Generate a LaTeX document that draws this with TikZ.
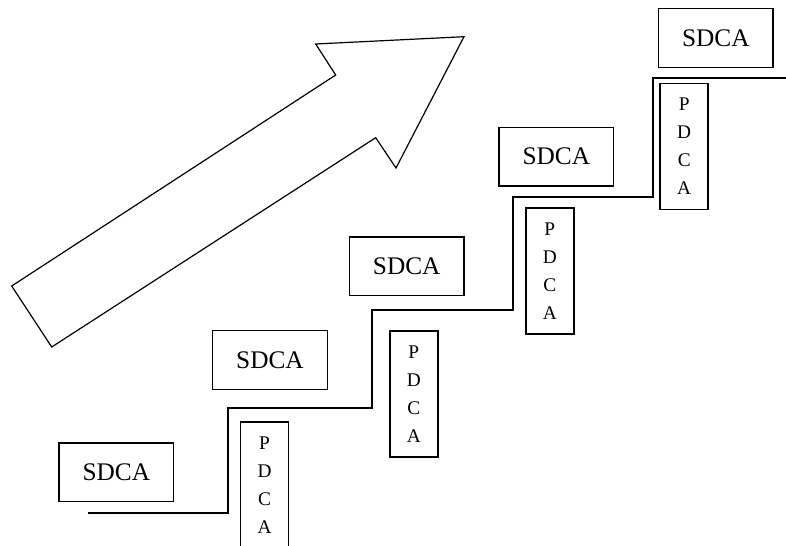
\documentclass[tikz,border=0pt]{standalone}
\usepackage{fontspec}
\setmainfont{Liberation Serif}
\begin{document}
\begin{tikzpicture}[x=0.75pt,y=-0.75pt,
    sdca/.style={draw, line width=1.2pt, minimum width=86pt, minimum height=44pt, inner sep=0pt, font=\fontsize{19}{22}\selectfont},
    pdca/.style={draw, line width=1.2pt, minimum width=36pt, minimum height=94.5pt, inner sep=0pt, align=center, font=\fontsize{14.5}{21}\selectfont}]
	\clip (0,0) rectangle (786,546);

	% big arrow
	\draw[line width=0.9pt] (11.7,286) -- (51.7,347) -- (375.7,137.7) -- (396,168) -- (464,36.7) -- (315.7,44) -- (335.7,75) -- cycle;

	\draw node[sdca] (s1) at (116.3,472.2) {SDCA};
	\draw node[sdca] (s2) at (270,360) {SDCA};
	\draw node[sdca] (s3) at (406.7,266.2) {SDCA};
	\draw node[sdca] (s4) at (556.3,156.7) {SDCA};
	\draw node[sdca] (s5) at (715.8,38) {SDCA};

	\draw node[pdca] (p1) at (264.5,485) {P\\D\\C\\A};
	\draw node[pdca] (p2) at (413.8,393.7) {P\\D\\C\\A};
	\draw node[pdca] (p3) at (549.8,271.2) {P\\D\\C\\A};
	\draw node[pdca] (p4) at (684.2,146.3) {P\\D\\C\\A};

	% stairs
	\coordinate (c0) at (88,513);
	\coordinate (c1) at (228.3,513);
	\coordinate (c2) at (228.3,408);
	\coordinate (c3) at (372.3,408);
	\coordinate (c4) at (372.3,310);
	\coordinate (c5) at (513,310);
	\coordinate (c6) at (513,197);
	\coordinate (c7) at (653,197);
	\coordinate (c8) at (653,77.5);
	\coordinate (c9) at (786,77.5);
	\draw[line width=1.5pt] (c0) -- (c1) -- (c2) -- (c3) -- (c4) -- (c5) -- (c6) -- (c7) -- (c8) -- (c9);
\end{tikzpicture}
\end{document}
